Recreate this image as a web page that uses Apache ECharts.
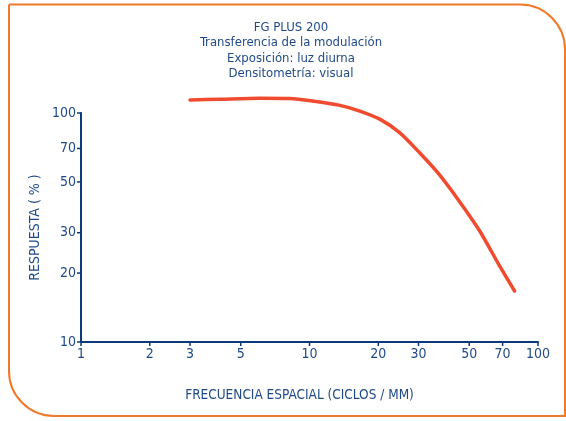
<!DOCTYPE html>
<html>
<head>
<meta charset="utf-8">
<script src="https://cdn.jsdelivr.net/npm/echarts@6/dist/echarts.min.js"></script>
<style>html,body{margin:0;padding:0;background:#fff;}#c{width:566px;height:421px;}</style>
</head>
<body>
<div id="c"></div>
<script>
// Data (spatial frequency in cycles/mm vs response in %)
const frequency = [3.0, 4.05, 6.06, 8.2, 10.3, 13.6, 16.6, 20.3, 24.8, 30.4, 37.1, 45.4, 55.5, 67.9, 79.0];
const response  = [114.0, 114.8, 115.9, 115.6, 112.8, 108.0, 102.0, 94.0, 82.1, 66.9, 53.7, 41.0, 30.6, 21.5, 16.7];
const xTicks = [1, 2, 3, 5, 10, 20, 30, 50, 70, 100];
const yTicks = [10, 20, 30, 50, 70, 100];
const titleLines = ['FG PLUS 200', 'Transferencia de la modulación', 'Exposición: luz diurna', 'Densitometría: visual'];

const FONT = "'Liberation Sans Narrow', 'DejaVu Sans Condensed', 'Roboto', sans-serif";
const NAVY = '#0b3a7a';
const TXT = '#1f4a87';

const chart = echarts.init(document.getElementById('c'), null, {renderer: 'canvas'});
const pts = frequency.map((f, i) => [f, response[i]]);

chart.setOption({
  animation: false,
  title: {
    text: titleLines.join('\n'),
    left: 286, top: 15, textAlign: 'center',
    textStyle: {fontFamily: FONT, fontSize: 13, fontWeight: 'normal', color: TXT, lineHeight: 15.3}
  },
  grid: {left: 81, right: 28, top: 113, bottom: 79, containLabel: false},
  xAxis: {
    type: 'log', logBase: 10, min: 1, max: 100,
    name: 'FRECUENCIA ESPACIAL (CICLOS / MM)', nameLocation: 'middle', nameGap: 46,
    nameTextStyle: {fontFamily: FONT, fontSize: 13.5, color: TXT, padding: [0, 20, 0, 0]},
    axisLine: {show: true, lineStyle: {color: NAVY, width: 2}},
    axisTick: {show: false},
    axisLabel: {show: false},
    splitLine: {show: false}
  },
  yAxis: {
    type: 'log', logBase: 10, min: 10, max: 100,
    name: 'RESPUESTA ( % )', nameLocation: 'middle', nameGap: 39, nameRotate: 90,
    nameTextStyle: {fontFamily: FONT, fontSize: 14, color: TXT},
    axisLine: {show: true, lineStyle: {color: NAVY, width: 2}},
    axisTick: {show: false},
    axisLabel: {show: false},
    splitLine: {show: false}
  },
  series: [
    {
      type: 'line', data: pts, smooth: 0.25, showSymbol: false, clip: false,
      lineStyle: {color: '#f04a2f', width: 3.5, cap: 'round'}
    },
    // ticks & labels placed through the axes' scales
    {
      type: 'custom', coordinateSystem: 'cartesian2d', clip: false, silent: true,
      data: xTicks.map(v => [v, 10]),
      renderItem: function (params, api) {
        const p = api.coord([api.value(0), 10]);
        return {type: 'group', children: [
          {type: 'line', shape: {x1: p[0], y1: p[1], x2: p[0], y2: p[1] + 4}, style: {stroke: NAVY, lineWidth: 1.5}},
          {type: 'text', x: p[0], y: p[1] + 5, style: {text: String(api.value(0)), fontFamily: FONT, fontSize: 14, fill: TXT, align: 'center', verticalAlign: 'top'}}
        ]};
      }
    },
    {
      type: 'custom', coordinateSystem: 'cartesian2d', clip: false, silent: true,
      data: yTicks.map(v => [1, v]),
      renderItem: function (params, api) {
        const p = api.coord([1, api.value(1)]);
        return {type: 'group', children: [
          {type: 'line', shape: {x1: p[0] - 4, y1: p[1], x2: p[0], y2: p[1]}, style: {stroke: NAVY, lineWidth: 1.5}},
          {type: 'text', x: p[0] - 5, y: p[1], style: {text: String(api.value(1)), fontFamily: FONT, fontSize: 14, fill: TXT, align: 'right', verticalAlign: 'middle'}}
        ]};
      }
    }
  ],
  graphic: [
    {
      type: 'rect', z: -1, silent: true,
      shape: {x: 9, y: 4.5, width: 556, height: 411.5, r: [0, 45, 0, 45]},
      style: {fill: 'none', stroke: '#f07a2c', lineWidth: 2}
    }
  ]
});
</script>
</body>
</html>
